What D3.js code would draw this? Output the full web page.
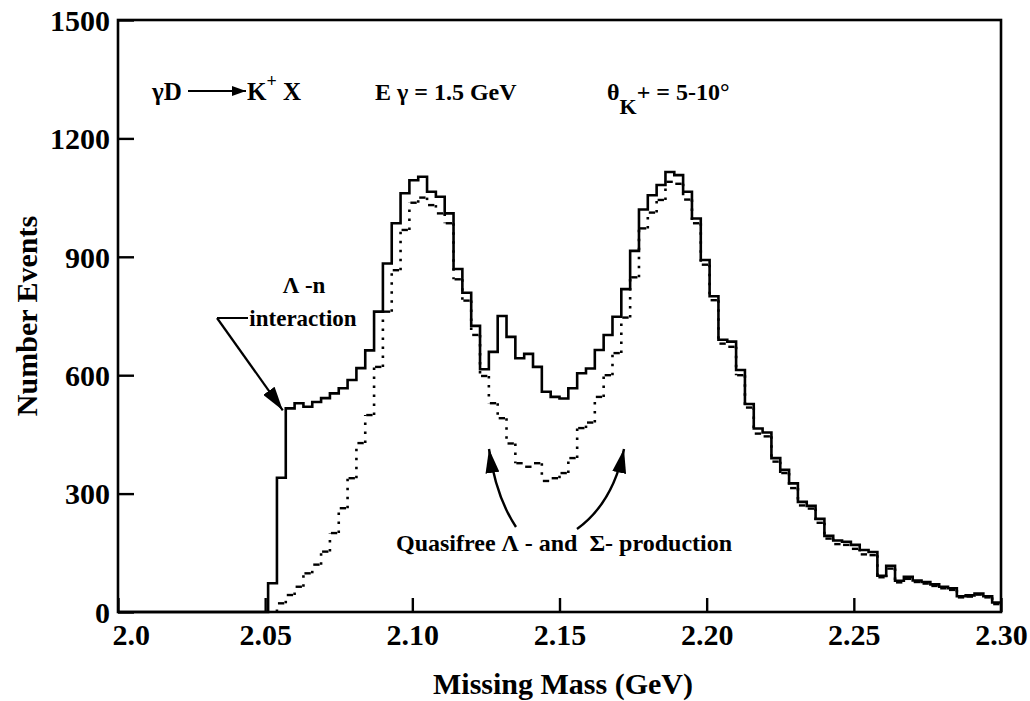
<!DOCTYPE html>
<html>
<head>
<meta charset="utf-8">
<script src="https://cdn.jsdelivr.net/npm/d3@7"></script>
<style>
  html, body { margin: 0; padding: 0; background: #fff; }
  svg { display: block; }
  text { font-family: "Liberation Serif", "Times New Roman", serif; font-weight: bold; fill: #000; }
</style>
</head>
<body>
<svg id="chart" width="1030" height="701"></svg>
<script>
// Missing-mass spectrum for gamma D -> K+ X, 0.003 GeV bins from 2.000 to 2.300 GeV
const binStart = 2.0;
const binWidth = 0.003;

// All events (solid histogram)
const totalEvents = [
  0, 0, 0, 0, 0, 0, 0, 0, 0, 0,
  0, 0, 0, 0, 0, 0, 0, 73, 340, 516,
  529, 520, 532, 542, 554, 567, 588, 618, 663, 761,
  883, 985, 1061, 1094, 1103, 1065, 1052, 1010, 869, 809,
  725, 615, 659, 750, 697, 643, 654, 621, 558, 545,
  541, 567, 605, 617, 664, 702, 748, 818, 915, 1020,
  1056, 1082, 1115, 1107, 1065, 997, 892, 800, 690, 685,
  613, 527, 465, 455, 390, 360, 326, 279, 269, 236,
  193, 181, 178, 170, 157, 152, 92, 117, 79, 89,
  80, 76, 70, 64, 60, 40, 42, 47, 40, 24
];

// Quasifree production calculation (dotted histogram)
const quasifreeEvents = [
  0, 0, 0, 0, 0, 0, 0, 0, 0, 0,
  0, 0, 0, 0, 0, 0, 0, 0, 22, 43,
  64, 98, 120, 153, 200, 263, 339, 428, 499, 621,
  761, 866, 968, 1037, 1050, 1031, 1010, 985, 843, 789,
  702, 598, 529, 491, 427, 377, 368, 377, 332, 339,
  352, 390, 466, 480, 545, 600, 656, 746, 848, 972,
  1012, 1044, 1090, 1085, 1045, 985, 880, 790, 680, 672,
  600, 518, 452, 445, 381, 352, 314, 270, 262, 226,
  186, 172, 170, 160, 146, 144, 88, 110, 75, 84,
  76, 72, 66, 60, 56, 37, 39, 44, 37, 20
];

const xTicks = [2.0, 2.05, 2.10, 2.15, 2.20, 2.25, 2.30];
const xTickLabels = ["2.0", "2.05", "2.10", "2.15", "2.20", "2.25", "2.30"];
const yTicks = [0, 300, 600, 900, 1200, 1500];
const yTickLabels = ["0", "300", "600", "900", "1200", "1500"];

const svg = d3.select("#chart");
const x = d3.scaleLinear().domain([2.0, 2.30]).range([118, 1001]);
const y = d3.scaleLinear().domain([0, 1500]).range([612, 20]);
const edgeAt = i => binStart + i * binWidth;

// arrowhead markers
const defs = svg.append("defs");
function marker(id, len, half) {
  defs.append("marker")
    .attr("id", id)
    .attr("markerUnits", "userSpaceOnUse")
    .attr("viewBox", `0 ${-half} ${len} ${2 * half}`)
    .attr("refX", len).attr("refY", 0)
    .attr("markerWidth", len).attr("markerHeight", 2 * half)
    .attr("orient", "auto")
    .append("path")
    .attr("d", `M0,${-half}L${len},0L0,${half}Z`)
    .attr("fill", "#000");
}
marker("headBig", 24, 7);
marker("headSmall", 14, 5);

// solid histogram
const solidPts = totalEvents.map((v, i) => [edgeAt(i), v]);
solidPts.push([edgeAt(totalEvents.length), totalEvents[totalEvents.length - 1]]);
const stepLine = d3.line().x(d => x(d[0])).y(d => y(d[1])).curve(d3.curveStepAfter);
svg.append("path")
  .attr("d", stepLine(solidPts))
  .attr("fill", "none")
  .attr("stroke", "#000")
  .attr("stroke-width", 2.6)
  .attr("stroke-linejoin", "miter");

// dotted histogram: short dashes along the bin tops, dots along the risers
const dotted = svg.append("g");
const firstQ = quasifreeEvents.findIndex(v => v > 0);
quasifreeEvents.forEach((v, i) => {
  if (i < firstQ) return;
  dotted.append("line")
    .attr("x1", x(edgeAt(i)) + 1).attr("x2", x(edgeAt(i + 1)) - 1.5)
    .attr("y1", y(v)).attr("y2", y(v))
    .attr("stroke", "#000").attr("stroke-width", 2.4);
  const prev = i > 0 ? quasifreeEvents[i - 1] : 0;
  if (Math.abs(y(v) - y(prev)) > 4) {
    dotted.append("line")
      .attr("x1", x(edgeAt(i))).attr("x2", x(edgeAt(i)))
      .attr("y1", y(prev)).attr("y2", y(v))
      .attr("stroke", "#000").attr("stroke-width", 2.6)
      .attr("stroke-dasharray", "2.5,6.5");
  }
});

// axes with inward ticks
const xAxis = d3.axisBottom(x)
  .tickValues(xTicks)
  .tickFormat((d, i) => xTickLabels[i])
  .tickSizeInner(-14).tickSizeOuter(0).tickPadding(12);
const gx = svg.append("g").attr("transform", "translate(0,612)").call(xAxis);
gx.select(".domain").remove();
gx.selectAll("line").attr("stroke", "#000").attr("stroke-width", 2.4);
gx.selectAll("text").attr("font-size", 30).attr("fill", "#000")
  .style("font-family", '"Liberation Serif", serif').style("font-weight", "bold");
gx.selectAll("text").filter((d, i) => i === 0).attr("text-anchor", "start").attr("x", -6);

const yAxis = d3.axisLeft(y)
  .tickValues(yTicks)
  .tickFormat((d, i) => yTickLabels[i])
  .tickSizeInner(-16).tickSizeOuter(0).tickPadding(8);
const gy = svg.append("g").attr("transform", "translate(118,0)").call(yAxis);
gy.select(".domain").remove();
gy.selectAll("line").attr("stroke", "#000").attr("stroke-width", 2.4);
gy.selectAll("text").attr("font-size", 30).attr("fill", "#000").attr("dy", "0.34em")
  .style("font-family", '"Liberation Serif", serif').style("font-weight", "bold");

// frame
svg.append("rect")
  .attr("x", x(2.0)).attr("y", y(1500))
  .attr("width", x(2.30) - x(2.0)).attr("height", y(0) - y(1500))
  .attr("fill", "none").attr("stroke", "#000").attr("stroke-width", 2.6);

// axis titles
svg.append("text")
  .attr("transform", `translate(37,${(y(0) + y(1500)) / 2}) rotate(-90)`)
  .attr("text-anchor", "middle").attr("font-size", 30)
  .text("Number Events");
svg.append("text")
  .attr("x", 563).attr("y", 694)
  .attr("text-anchor", "middle").attr("font-size", 30)
  .text("Missing Mass (GeV)");

// reaction label
svg.append("text").attr("x", 152).attr("y", 100).attr("font-size", 25).text("γD");
svg.append("line")
  .attr("x1", 188).attr("y1", 91).attr("x2", 246).attr("y2", 91)
  .attr("stroke", "#000").attr("stroke-width", 2)
  .attr("marker-end", "url(#headSmall)");
const kx = svg.append("text").attr("x", 247).attr("y", 100).attr("font-size", 25);
kx.append("tspan").text("K");
kx.append("tspan").attr("dy", -13).attr("font-size", 18).text("+");
kx.append("tspan").attr("x", 283).attr("dy", 13).text("X");

svg.append("text").attr("x", 375).attr("y", 100).attr("font-size", 24)
  .style("white-space", "pre").text("E γ = 1.5 GeV");

const th = svg.append("text").attr("x", 607).attr("y", 100).attr("font-size", 24);
th.append("tspan").text("θ");
th.append("tspan").attr("dy", 14).attr("font-size", 22).text("K");
th.append("tspan").attr("dy", -14).text("+");
th.append("tspan").style("white-space", "pre").text(" = 5-10°");

// Lambda-n interaction note
svg.append("text").attr("x", 304).attr("y", 293).attr("text-anchor", "middle")
  .attr("font-size", 23).style("white-space", "pre").text("Λ -n");
svg.append("text").attr("x", 303).attr("y", 326).attr("text-anchor", "middle")
  .attr("font-size", 23).text("interaction");
svg.append("line")
  .attr("x1", 217).attr("y1", 318).attr("x2", 248).attr("y2", 318)
  .attr("stroke", "#000").attr("stroke-width", 2);
svg.append("line")
  .attr("x1", 217).attr("y1", 318)
  .attr("x2", x(edgeAt(19)) - 3).attr("y2", y(totalEvents[19]) + 2)
  .attr("stroke", "#000").attr("stroke-width", 2.2)
  .attr("marker-end", "url(#headBig)");

// quasifree production note
svg.append("text").attr("x", 396).attr("y", 551).attr("font-size", 24)
  .style("white-space", "pre").text("Quasifree Λ - and  Σ- production");
svg.append("path")
  .attr("d", "M516,527 Q496,497 489,449")
  .attr("fill", "none").attr("stroke", "#000").attr("stroke-width", 2.4)
  .attr("marker-end", "url(#headBig)");
svg.append("path")
  .attr("d", "M577,529 Q613,503 624,449")
  .attr("fill", "none").attr("stroke", "#000").attr("stroke-width", 2.4)
  .attr("marker-end", "url(#headBig)");
</script>
</body>
</html>
